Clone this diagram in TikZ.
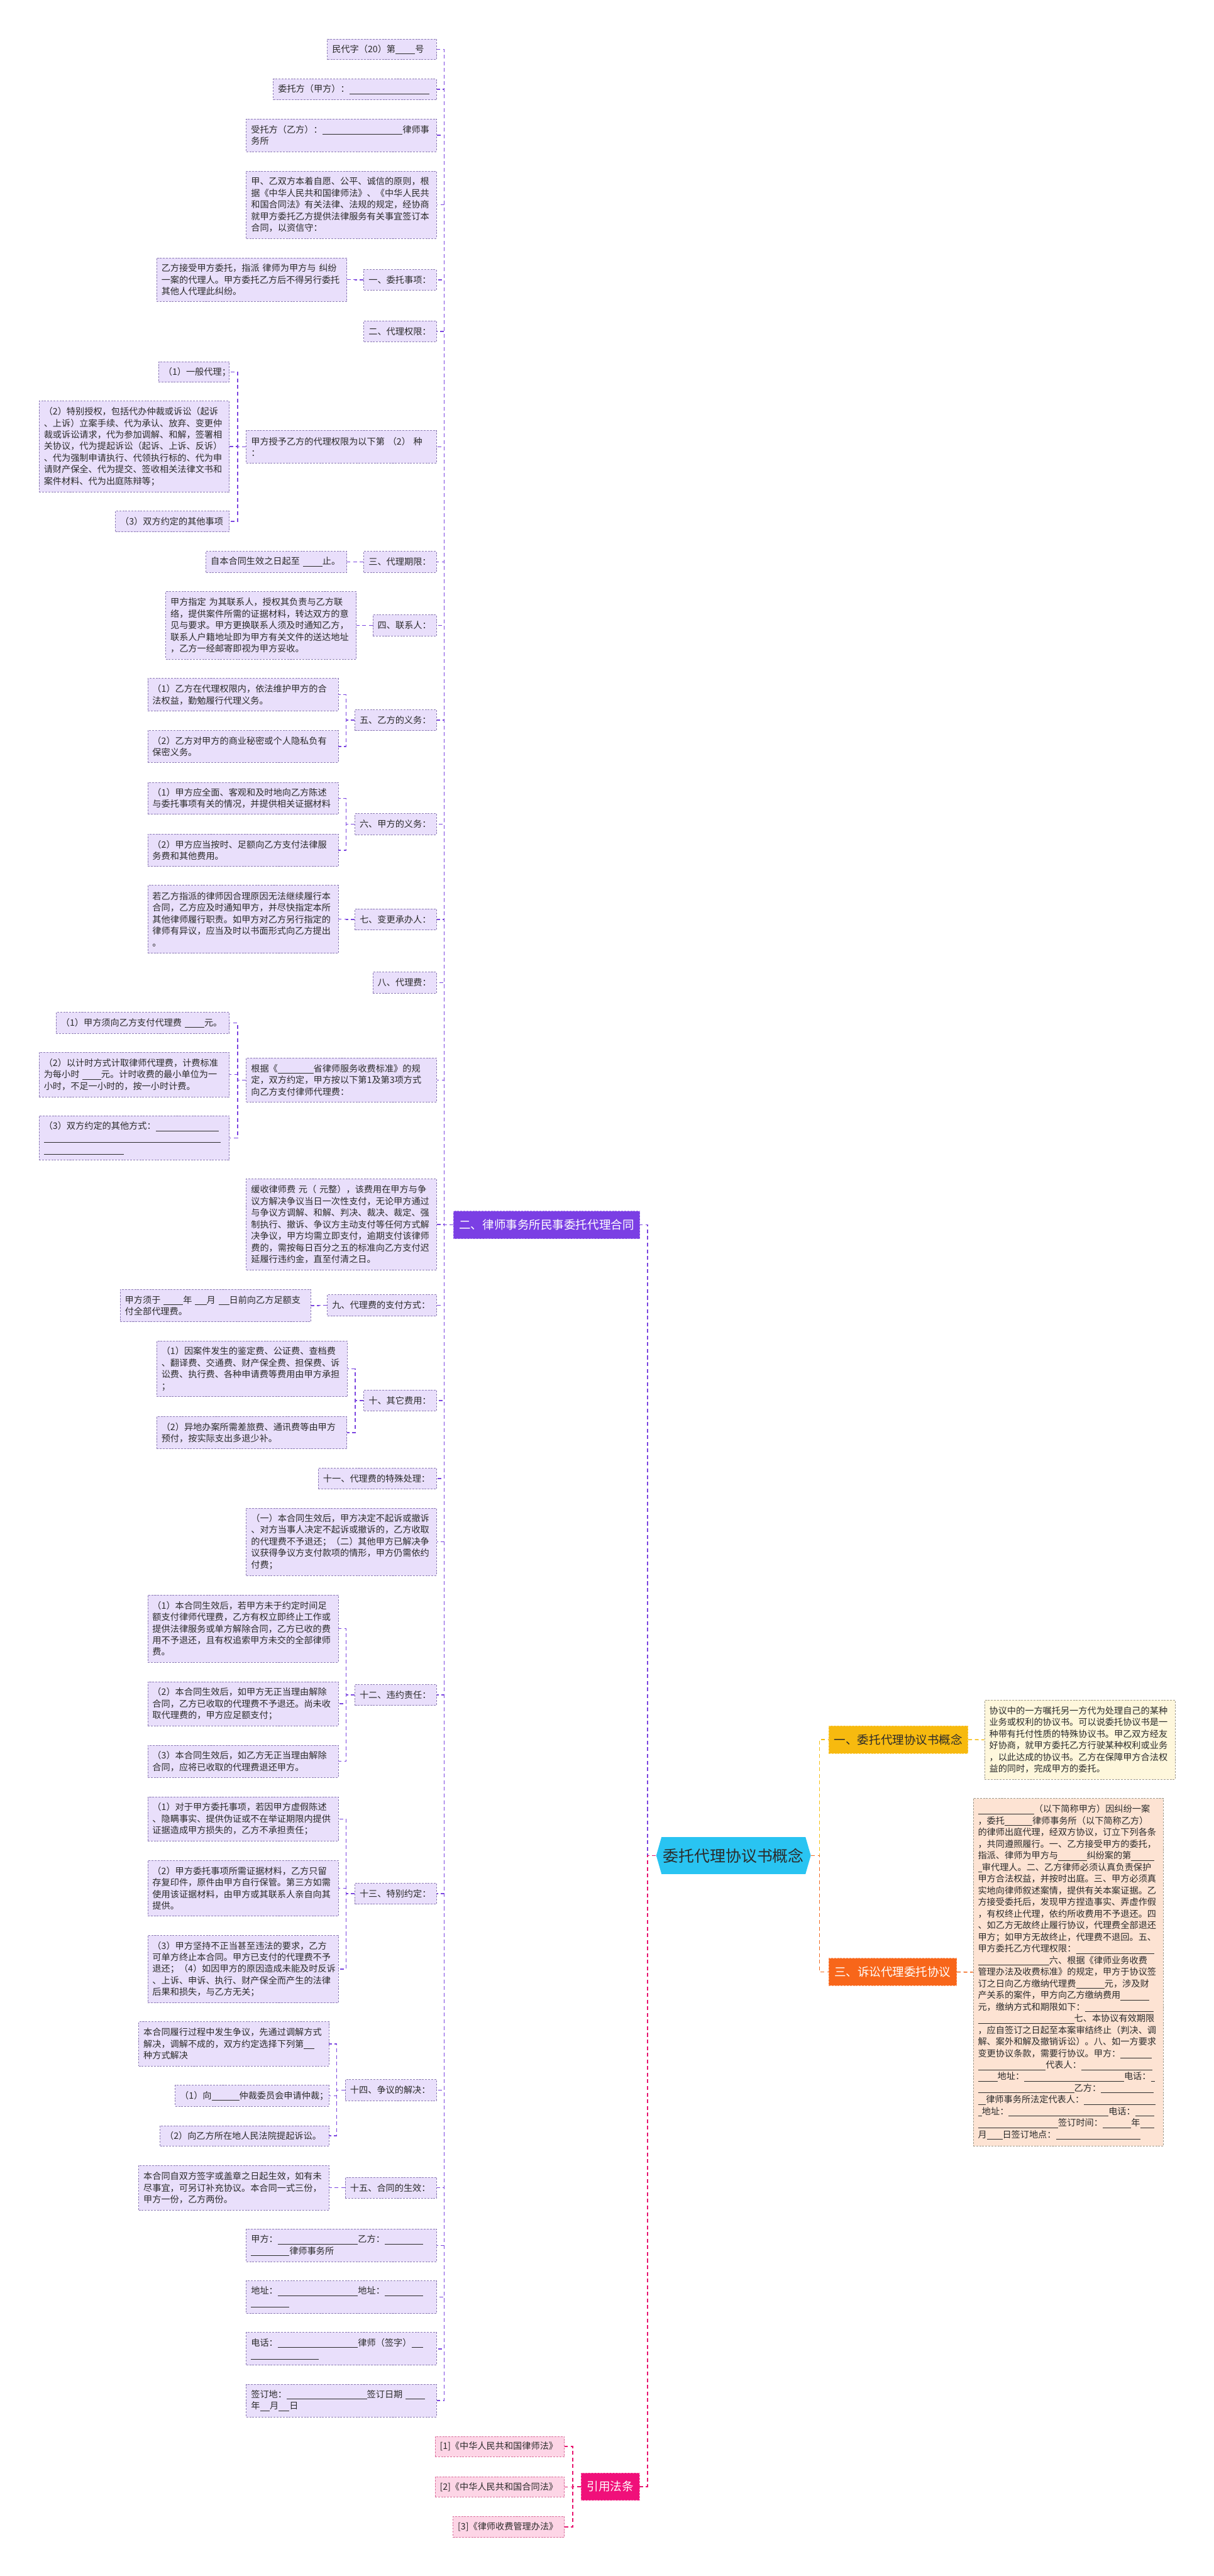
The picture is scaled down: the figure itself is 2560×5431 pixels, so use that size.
\documentclass[tikz,border=0pt]{standalone}
\usepackage{fontspec}
\setmainfont{Noto Sans CJK SC}
\usetikzlibrary{shapes.symbols}
\definecolor{leaff}{HTML}{E9DFFB}
\definecolor{leafb}{HTML}{8C7BB5}
\definecolor{txt}{HTML}{2B2B2B}
\definecolor{purp}{HTML}{7B45E0}
\definecolor{purpf}{HTML}{7B3FE4}
\definecolor{pinkc}{HTML}{E8156F}
\definecolor{pinkf}{HTML}{F0107A}
\definecolor{pleaf}{HTML}{FDD5E6}
\definecolor{pleafb}{HTML}{D9709C}
\definecolor{rootc}{HTML}{29C4F2}
\definecolor{yelc}{HTML}{F6BE10}
\definecolor{yelf}{HTML}{F7BA0F}
\definecolor{oranc}{HTML}{F26A1F}
\definecolor{oranf}{HTML}{F8661A}
\definecolor{yleaf}{HTML}{FEF7DC}
\definecolor{oleaf}{HTML}{FDE3D3}
\definecolor{gryb}{HTML}{A09A8A}
\newcommand\leaffont{\fontsize{9.4}{12.25}\selectfont}
\newcommand\bl[1]{\rule[-1.8pt]{#1em}{0.45pt}}
\newcommand\bx[7]{%
  \pgfmathsetmacro\bxw{(#4-#2)*0.5}%
  \pgfmathsetmacro\bxh{(#5-#3)*0.5}%
  \pgfmathsetmacro\bxt{(#4-#2)*0.5-10}%
  \node[#6, anchor=north west, minimum width=\bxw pt, minimum height=\bxh pt, text width=\bxt pt] (#1) at (#2,#3) {#7};}
\tikzset{
  leaf/.style={draw=leafb, fill=leaff, dash pattern=on 2pt off 1.2pt, line width=0.5pt, text=txt, align=left, inner xsep=5pt, inner ysep=2pt, font=\leaffont},
  yleafbox/.style={leaf, fill=yleaf, draw=gryb},
  oleafbox/.style={leaf, fill=oleaf, draw=gryb},
  pleafbox/.style={leaf, fill=pleaf, draw=pleafb},
  mainbox/.style={fill=purpf, draw=purpf!60!white, dash pattern=on 2pt off 1.2pt, line width=0.5pt, text=white, align=center, inner xsep=5pt, inner ysep=2pt, font=\fontsize{12.3}{14}\selectfont},
  lawbox/.style={mainbox, fill=pinkf, draw=pinkf!60!white},
  onebox/.style={mainbox, fill=yelf, draw=yelf!60!white, text=txt},
  threebox/.style={mainbox, fill=oranf, draw=oranf!60!white},
  conn/.style={draw=purp, line width=1pt, dash pattern=on 4pt off 3pt},
}
\begin{document}
\begin{tikzpicture}[x=0.5pt,y=-0.5pt]
\fill[white] (0,0) rectangle (2560,5431);
\path[use as bounding box] (0,0) rectangle (2560,5431);

% root
\node[signal, signal to=west and east, signal pointer angle=148, fill=rootc, minimum width=163pt, minimum height=39pt, inner sep=0pt, text=txt, font=\fontsize{16.5}{18}\selectfont] (R) at (1547,3912) {委托代理协议书概念};

% main branches
\bx{A}{956}{2553}{1349}{2611}{mainbox}{二、律师事务所民事委托代理合同}
\bx{B1}{1747}{3638}{2041}{3696}{onebox}{一、委托代理协议书概念}
\bx{B3}{1747}{4128}{2017}{4186}{threebox}{三、诉讼代理委托协议}
\bx{L}{1225}{5213}{1348}{5271}{lawbox}{引用法条}

% right side texts
\bx{B1t}{2076}{3584}{2478}{3751}{yleafbox}{协议中的一方嘱托另一方代为处理自己的某种\\业务或权利的协议书。可以说委托协议书是一\\种带有托付性质的特殊协议书。甲乙双方经友\\好协商，就甲方委托乙方行驶某种权利或业务\\，以此达成的协议书。乙方在保障甲方合法权\\益的同时，完成甲方的委托。}
\bx{B3t}{2052}{3791}{2453}{4524}{oleafbox}{\bl{6.3}（以下简称甲方）因纠纷一案\\，委托\bl{3.1}律师事务所（以下简称乙方）\\的律师出庭代理，经双方协议，订立下列各条\\，共同遵照履行。一、乙方接受甲方的委托，\\指派、律师为甲方与\bl{3.2}纠纷案的第\bl{2.6}\\\bl{0.45}审代理人。二、乙方律师必须认真负责保护\\甲方合法权益，并按时出庭。三、甲方必须真\\实地向律师叙述案情，提供有关本案证据。乙\\方接受委托后，发现甲方捏造事实、弄虚作假\\，有权终止代理，依约所收费用不予退还。四\\、如乙方无故终止履行协议，代理费全部退还\\甲方；如甲方无故终止，代理费不退回。五、\\甲方委托乙方代理权限：\bl{8.8}\\\bl{8}六、根据《律师业务收费\\管理办法及收费标准》的规定，甲方于协议签\\订之日向乙方缴纳代理费\bl{3.2}元，涉及财\\产关系的案件，甲方向乙方缴纳费用\bl{3.2}\\元，缴纳方式和期限如下：\bl{7.7}\\\bl{10.8}七、本协议有效期限\\，应自签订之日起至本案审结终止（判决、调\\解、案外和解及撤销诉讼）。八、如一方要求\\变更协议条款，需要行协议。甲方：\bl{3.5}\\\bl{7.6}代表人：\bl{8}\\\bl{2.2}地址：\bl{11.2}电话：\bl{0.45}\\\bl{10.8}乙方：\bl{5.9}\\\bl{0.9}律师事务所法定代表人：\bl{8}\\\bl{0.45}地址：\bl{11.2}电话：\bl{2.1}\\\bl{9}签订时间：\bl{3.2}年\bl{1.6}\\月\bl{1.75}日签订地点：\bl{9.5}}

% references
\bx{r1}{917}{5136}{1190}{5179}{pleafbox}{[1]《中华人民共和国律师法》}
\bx{r2}{917}{5221}{1190}{5264}{pleafbox}{[2]《中华人民共和国合同法》}
\bx{r3}{955}{5305}{1190}{5349}{pleafbox}{[3]《律师收费管理办法》}

% children of A
\bx{n1}{690}{82}{920}{125}{leaf}{民代字（20）第\bl{2.2}号}
\bx{n2}{576}{166}{920}{210}{leaf}{委托方（甲方）：\bl{9}}
\bx{n3}{519}{250}{920}{319}{leaf}{受托方（乙方）：\bl{9}律师事\\务所}
\bx{n4}{519}{360}{920}{502}{leaf}{甲、乙双方本着自愿、公平、诚信的原则，根\\据《中华人民共和国律师法》、《中华人民共\\和国合同法》有关法律、法规的规定，经协商\\就甲方委托乙方提供法律服务有关事宜签订本\\合同，以资信守：}
\bx{n5}{767}{568}{920}{611}{leaf}{一、委托事项：}
\bx{n5a}{330}{543}{731}{635}{leaf}{乙方接受甲方委托，指派 律师为甲方与 纠纷\\一案的代理人。甲方委托乙方后不得另行委托\\其他人代理此纠纷。}
\bx{n6}{767}{676}{920}{720}{leaf}{二、代理权限：}
\bx{n7}{519}{907}{920}{976}{leaf}{甲方授予乙方的代理权限为以下第 （2） 种\\：}
\bx{n7a}{334}{762}{483}{805}{leaf}{（1）一般代理；}
\bx{n7b}{82}{845}{483}{1037}{leaf}{（2）特别授权，包括代办仲裁或诉讼（起诉\\、上诉）立案手续、代为承认、放弃、变更仲\\裁或诉讼请求，代为参加调解、和解，签署相\\关协议，代为提起诉讼（起诉、上诉、反诉）\\、代为强制申请执行、代领执行标的、代为申\\请财产保全、代为提交、签收相关法律文书和\\案件材料、代为出庭陈辩等；}
\bx{n7c}{243}{1077}{483}{1121}{leaf}{（3）双方约定的其他事项}
\bx{n8}{767}{1162}{920}{1206}{leaf}{三、代理期限：}
\bx{n8a}{434}{1162}{731}{1206}{leaf}{自本合同生效之日起至 \bl{2.2}止。}
\bx{n9}{786}{1296}{920}{1340}{leaf}{四、联系人：}
\bx{n9a}{349}{1247}{751}{1389}{leaf}{甲方指定 为其联系人，授权其负责与乙方联\\络，提供案件所需的证据材料，转达双方的意\\见与要求。甲方更换联系人须及时通知乙方，\\联系人户籍地址即为甲方有关文件的送达地址\\，乙方一经邮寄即视为甲方妥收。}
\bx{n10}{748}{1496}{920}{1540}{leaf}{五、乙方的义务：}
\bx{n10a}{311}{1430}{713}{1498}{leaf}{（1）乙方在代理权限内，依法维护甲方的合\\法权益，勤勉履行代理义务。}
\bx{n10b}{311}{1540}{713}{1607}{leaf}{（2）乙方对甲方的商业秘密或个人隐私负有\\保密义务。}
\bx{n11}{748}{1715}{920}{1759}{leaf}{六、甲方的义务：}
\bx{n11a}{311}{1649}{713}{1716}{leaf}{（1）甲方应全面、客观和及时地向乙方陈述\\与委托事项有关的情况，并提供相关证据材料}
\bx{n11b}{311}{1758}{713}{1826}{leaf}{（2）甲方应当按时、足额向乙方支付法律服\\务费和其他费用。}
\bx{n12}{748}{1916}{920}{1960}{leaf}{七、变更承办人：}
\bx{n12a}{311}{1866}{713}{2009}{leaf}{若乙方指派的律师因合理原因无法继续履行本\\合同，乙方应及时通知甲方，并尽快指定本所\\其他律师履行职责。如甲方对乙方另行指定的\\律师有异议，应当及时以书面形式向乙方提出\\。}
\bx{n13}{786}{2049}{920}{2093}{leaf}{八、代理费：}
\bx{n14}{519}{2230}{920}{2323}{leaf}{根据《\bl{4}省律师服务收费标准》的规\\定，双方约定，甲方按以下第1及第3项方式\\向乙方支付律师代理费：}
\bx{n14a}{118}{2134}{483}{2178}{leaf}{（1）甲方须向乙方支付代理费 \bl{2.2}元。}
\bx{n14b}{82}{2218}{483}{2312}{leaf}{（2）以计时方式计取律师代理费，计费标准\\为每小时 \bl{2.1}元。计时收费的最小单位为一\\小时，不足一小时的，按一小时计费。}
\bx{n14c}{82}{2352}{483}{2445}{leaf}{（3）双方约定的其他方式：\bl{7.1}\\\bl{19.8}\\\bl{9}}
\bx{n15}{519}{2485}{920}{2677}{leaf}{缓收律师费 元（ 元整），该费用在甲方与争\\议方解决争议当日一次性支付，无论甲方通过\\与争议方调解、和解、判决、裁决、裁定、强\\制执行、撤诉、争议方主动支付等任何方式解\\决争议，甲方均需立即支付，逾期支付该律师\\费的，需按每日百分之五的标准向乙方支付迟\\延履行违约金，直至付清之日。}
\bx{n16}{690}{2729}{920}{2774}{leaf}{九、代理费的支付方式：}
\bx{n16a}{253}{2718}{655}{2786}{leaf}{甲方须于 \bl{2.2}年 \bl{1.3}月 \bl{1.2}日前向乙方足额支\\付全部代理费。}
\bx{n17}{767}{2930}{920}{2974}{leaf}{十、其它费用：}
\bx{n17a}{330}{2827}{732}{2944}{leaf}{（1）因案件发生的鉴定费、公证费、查档费\\、翻译费、交通费、财产保全费、担保费、诉\\讼费、执行费、各种申请费等费用由甲方承担\\；}
\bx{n17b}{330}{2986}{731}{3054}{leaf}{（2）异地办案所需差旅费、通讯费等由甲方\\预付，按实际支出多退少补。}
\bx{n18}{671}{3095}{920}{3139}{leaf}{十一、代理费的特殊处理：}
\bx{n19}{519}{3179}{920}{3321}{leaf}{（一）本合同生效后，甲方决定不起诉或撤诉\\、对方当事人决定不起诉或撤诉的，乙方收取\\的代理费不予退还；（二）其他甲方已解决争\\议获得争议方支付款项的情形，甲方仍需依约\\付费；}
\bx{n20}{748}{3551}{920}{3595}{leaf}{十二、违约责任：}
\bx{n20a}{311}{3362}{713}{3504}{leaf}{（1）本合同生效后，若甲方未于约定时间足\\额支付律师代理费，乙方有权立即终止工作或\\提供法律服务或单方解除合同，乙方已收的费\\用不予退还，且有权追索甲方未交的全部律师\\费。}
\bx{n20b}{311}{3545}{713}{3638}{leaf}{（2）本合同生效后，如甲方无正当理由解除\\合同，乙方已收取的代理费不予退还。尚未收\\取代理费的，甲方应足额支付；}
\bx{n20c}{311}{3679}{713}{3747}{leaf}{（3）本合同生效后，如乙方无正当理由解除\\合同，应将已收取的代理费退还甲方。}
\bx{n21}{748}{3970}{920}{4014}{leaf}{十三、特别约定：}
\bx{n21a}{311}{3788}{713}{3881}{leaf}{（1）对于甲方委托事项，若因甲方虚假陈述\\、隐瞒事实、提供伪证或不在举证期限内提供\\证据造成甲方损失的，乙方不承担责任；}
\bx{n21b}{311}{3922}{713}{4039}{leaf}{（2）甲方委托事项所需证据材料，乙方只留\\存复印件，原件由甲方自行保管。第三方如需\\使用该证据材料，由甲方或其联系人亲自向其\\提供。}
\bx{n21c}{311}{4080}{713}{4222}{leaf}{（3）甲方坚持不正当甚至违法的要求，乙方\\可单方终止本合同。甲方已支付的代理费不予\\退还；（4）如因甲方的原因造成未能及时反诉\\、上诉、申诉、执行、财产保全而产生的法律\\后果和损失，与乙方无关；}
\bx{n22}{728}{4384}{920}{4428}{leaf}{十四、争议的解决：}
\bx{n22a}{292}{4262}{693}{4355}{leaf}{本合同履行过程中发生争议，先通过调解方式\\解决，调解不成的，双方约定选择下列第\bl{1.2}\\种方式解决}
\bx{n22b}{369}{4396}{693}{4440}{leaf}{（1）向\bl{3.1}仲裁委员会申请仲裁；}
\bx{n22c}{337}{4481}{693}{4524}{leaf}{（2）向乙方所在地人民法院提起诉讼。}
\bx{n23}{728}{4590}{920}{4634}{leaf}{十五、合同的生效：}
\bx{n23a}{292}{4565}{693}{4659}{leaf}{本合同自双方签字或盖章之日起生效，如有未\\尽事宜，可另订补充协议。本合同一式三份，\\甲方一份，乙方两份。}
\bx{n24}{519}{4699}{920}{4768}{leaf}{甲方：\bl{9}乙方：\bl{4.3}\\\bl{4.3}律师事务所}
\bx{n25}{519}{4808}{920}{4877}{leaf}{地址：\bl{9}地址：\bl{4.3}\\\bl{4.3}}
\bx{n26}{519}{4917}{920}{4986}{leaf}{电话：\bl{9}律师（签字）\bl{1.3}\\\bl{7.6}}
\bx{n27}{519}{5026}{920}{5095}{leaf}{签订地：\bl{9}签订日期 \bl{2.2}\\年\bl{1.1}月\bl{1.2}日}

% connectors
\draw[conn] (R.west) -- ++(-18,0) |- (A.east);
\draw[conn, draw=pinkc] (R.west) -- ++(-18,0) |- (L.east);
\draw[conn, draw=yelc] (R.east) -- ++(18,0) |- (B1.west);
\draw[conn, draw=oranc] (R.east) -- ++(18,0) |- (B3.west);
\draw[conn, draw=yelc] (B1.east) -- (B1t.west);
\draw[conn, draw=oranc] (B3.east) -- (B3t.west);
\foreach \c in {r1,r2,r3} \draw[conn, draw=pinkc] (L.west) -- ++(-17,0) |- (\c.east);
\foreach \c in {n1,n2,n3,n4,n5,n6,n7,n8,n9,n10,n11,n12,n13,n14,n15,n16,n17,n18,n19,n20,n21,n22,n23,n24,n25,n26,n27}
  \draw[conn] (A.west) -- ++(-19,0) |- (\c.east);
\foreach \p/\c in {n5/n5a,n7/n7a,n7/n7b,n7/n7c,n8/n8a,n9/n9a,n10/n10a,n10/n10b,n11/n11a,n11/n11b,n12/n12a,n14/n14a,n14/n14b,n14/n14c,n16/n16a,n17/n17a,n17/n17b,n20/n20a,n20/n20b,n20/n20c,n21/n21a,n21/n21b,n21/n21c,n22/n22a,n22/n22b,n22/n22c,n23/n23a}
  \draw[conn] (\p.west) -- ++(-18,0) |- (\c.east);
\end{tikzpicture}
\end{document}
